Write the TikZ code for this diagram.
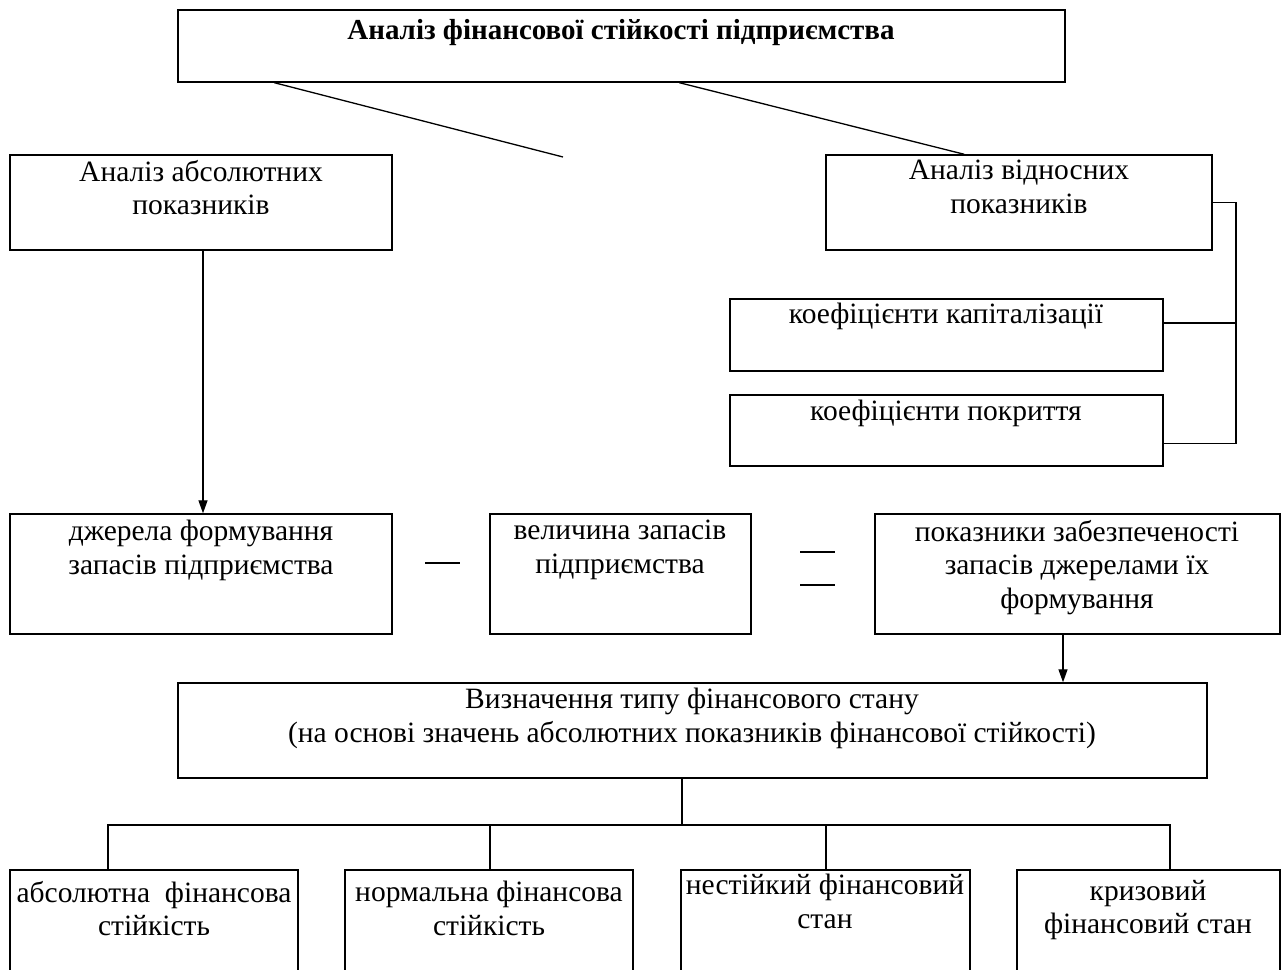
\documentclass[tikz,border=0pt]{standalone}
\usepackage{fontspec}
\setmainfont{Liberation Serif}
\usetikzlibrary{fit,calc,arrows.meta}
\tikzset{
  box/.style={draw, line width=1.4pt, inner sep=0pt},
  txt/.style={align=center, inner sep=0pt, anchor=north, font=\fontsize{29.5}{33.5}\selectfont},
  conn/.style={line width=1.3pt},
  arr/.style={line width=1.3pt, -{Triangle[length=13pt,width=9pt]}},
  sign/.style={line width=1.4pt}
}
\begin{document}
\begin{tikzpicture}[x=1pt,y=-1pt]
\useasboundingbox (0,0) rectangle (1287,969);
\clip (0,0) rectangle (1287,969);
% boxes
\node[box, fit={(178,10)(1065,82)}] (top) {};
\node[box, fit={(10,155)(392,250)}] (A) {};
\node[box, fit={(826,155)(1212,250)}] (B) {};
\node[box, fit={(730,299)(1163,371)}] (C1) {};
\node[box, fit={(730,395)(1163,466)}] (C2) {};
\node[box, fit={(10,514)(392,634)}] (D1) {};
\node[box, fit={(490,514)(751,634)}] (D2) {};
\node[box, fit={(875,514)(1280,634)}] (D3) {};
\node[box, fit={(178,683)(1207,778)}] (E) {};
\node[box, fit={(10,870)(298,985)}] (F1) {};
\node[box, fit={(345,870)(633,985)}] (F2) {};
\node[box, fit={(681,870)(970,985)}] (F3) {};
\node[box, fit={(1017,870)(1280,985)}] (F4) {};
% texts
\node[txt, font=\fontsize{29}{33}\selectfont\bfseries] (topt) at (621,19) {Аналіз фінансової стійкості підприємства};
\node[txt] (At) at (201,160) {Аналіз абсолютних\\показників};
\node[txt] (Bt) at (1019,160) {Аналіз відносних\\показників};
\node[txt] (C1t) at (946,303) {коефіцієнти капіталізації};
\node[txt] (C2t) at (946,400) {коефіцієнти покриття};
\node[txt] (D1t) at (201,520) {джерела формування\\запасів підприємства};
\node[txt] (D2t) at (620,520) {величина запасів\\підприємства};
\node[txt] (D3t) at (1077,520) {показники забезпеченості\\запасів джерелами їх\\формування};
\node[txt] (Et) at (692,688) {Визначення типу фінансового стану\\(на основі значень абсолютних показників фінансової стійкості)};
\node[txt] (F1t) at (154,881) {абсолютна\ \ фінансова\\стійкість};
\node[txt] (F2t) at (489,881) {нормальна фінансова\\стійкість};
\node[txt] (F3t) at (825,874) {нестійкий фінансовий\\стан};
\node[txt] (F4t) at (1148,880) {кризовий\\фінансовий стан};
% connectors
\coordinate (lend) at (563,157);
\draw[conn] ($(top.south west)+(97,0)$) -- (lend);
\draw[conn] ($(top.south west)+(502,0)$) -- ($(B.north west)+(139,0)$);
\coordinate (c1e) at ($(C1.east)+(0,-12)$);
\coordinate (c2e) at ($(C2.east)+(0,13)$);
\coordinate (bx) at (1236,0);
\draw[conn] (B.east) -- (B.east -| bx) -- (c2e -| bx) -- (c2e);
\draw[conn] (c1e) -- (c1e -| bx);
\draw[arr] (A.south -| 203,0) -- (D1.north -| 203,0);
\draw[arr] (D3.south -| 1063,0) -- (E.north -| 1063,0);
\coordinate (bus) at (682,825);
\draw[conn] (E.south -| bus) -- (bus);
\draw[conn] (F1.north -| 108,0) -- (108,825) -- (1170,825) -- (F4.north -| 1170,0);
\draw[conn] (F2.north -| 490,0) -- (490,825);
\draw[conn] (F3.north -| 826,0) -- (826,825);
% signs
\draw[sign] (425,563) -- (460,563);
\draw[sign] (800,552) -- (835,552);
\draw[sign] (800,585) -- (835,585);
\end{tikzpicture}
\end{document}
